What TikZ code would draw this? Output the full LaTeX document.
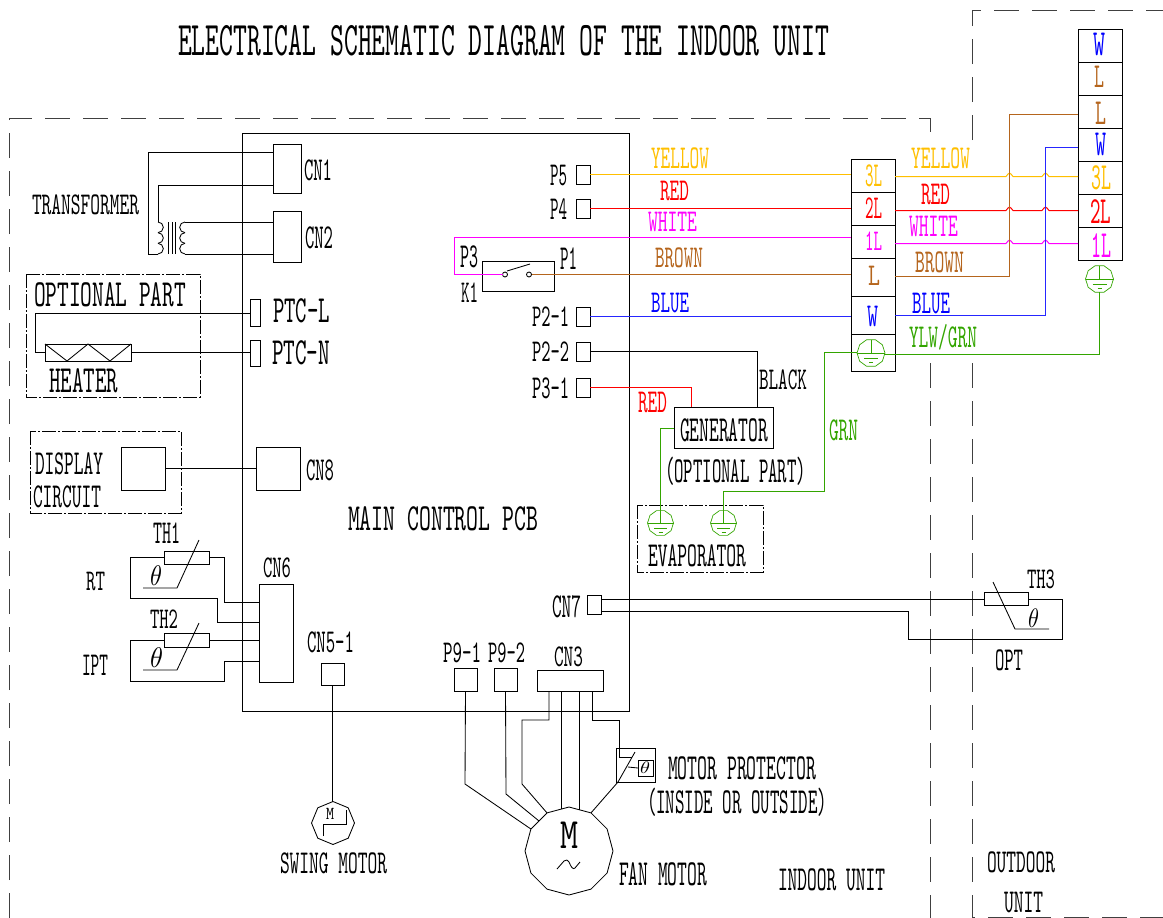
\documentclass[tikz,border=0pt]{standalone}
\usepackage{graphicx}
\usetikzlibrary{shapes.geometric,calc}
\definecolor{cyel}{HTML}{FFBF00}
\definecolor{cred}{HTML}{FF0000}
\definecolor{cmag}{HTML}{FF00FF}
\definecolor{cbrn}{HTML}{B5651D}
\definecolor{cblu}{HTML}{0000FF}
\definecolor{cgrn}{HTML}{33A500}
% label fitted to a measured box: [colour]{name}{x1}{x2}{y1}{y2}{text}
\newcommand\lbl[7][black]{\node[inner sep=0pt,outer sep=0pt,text=#1] (#2) at ({(#3+#4)/2},{(#5+#6)/2})
  {\resizebox{\dimexpr #4pt-#3pt\relax}{\dimexpr #6pt-#5pt\relax}{\ttfamily\smash{#7}\rule{0pt}{6pt}}};}
\newcommand\bx[5]{\node[boxn,minimum width={(#4-#2)*1pt},minimum height={(#5-#3)*1pt}] (#1) at ({(#2+#4)/2},{(#3+#5)/2}) {};}
\newcommand\gnd[4][12]{\node[gpoly,regular polygon sides=10,minimum size={#1*2pt}] (#2) at (#3,#4) {};
  \draw[gline] (#2.west) -- (#2.east);
  \draw[gline] ($(#2.center)+(-#1*0.5,5)$) -- ($(#2.center)+(#1*0.5,5)$);
  \draw[gline] ($(#2.center)+(-2,9)$) -- ($(#2.center)+(2,9)$);}
\tikzset{
  x=1pt,y=-1pt,
  boxn/.style={draw,inner sep=0pt,outer sep=0pt},
  wire/.style={line width=0.85pt,line join=miter},
  cwire/.style={line width=1pt,line join=miter},
  gpoly/.style={regular polygon,draw=cgrn,line width=0.7pt,inner sep=0pt,outer sep=0pt},
  gline/.style={draw=cgrn,line width=0.7pt},
  border/.style={line width=0.9pt,dash pattern=on 25pt off 13pt,draw=black!75},
  dashdot/.style={line width=0.8pt,dash pattern=on 14pt off 2pt on 2pt off 2pt},
  yw/.style={cwire,draw=cyel},rw/.style={cwire,draw=cred},mw/.style={cwire,draw=cmag},
  nw/.style={cwire,draw=cbrn},bw/.style={cwire,line width=1.25pt,draw=cblu!85!white},gw/.style={cwire,draw=cgrn},
}
\begin{document}
\begin{tikzpicture}[line width=0.85pt]
\useasboundingbox (0,0) rectangle (1163,918);
% unit borders
\draw[border] (9,918) -- (9,118) -- (930,118) -- (930,140);
\draw[border] (930,363) -- (930,918);
\draw[border] (972,140) -- (972,10) -- (1163,10);
\draw[border] (972,363) -- (972,917) -- (1163,917);
% title and pcb
\lbl{title}{178}{829}{26}{55}{ELECTRICAL SCHEMATIC DIAGRAM OF THE INDOOR UNIT}
\bx{pcb}{242}{133}{629}{711}
\lbl{pcbt}{348}{538}{507}{530}{MAIN CONTROL PCB}
% transformer
\bx{CNa}{273}{144}{301}{193}
\bx{CNb}{273}{211}{301}{262}
\lbl{tCNa}{304}{332}{160}{180}{CN1}
\lbl{tCNb}{305}{333}{227}{248}{CN2}
\lbl{ttr}{32}{139}{195}{214}{TRANSFORMER}
\coordinate (prit) at (158,222);
\coordinate (prib) at (158,254);
\coordinate (sect) at (185,222);
\coordinate (secb) at (185,254);
\draw[wire] (CNa.west |- 0,152) -- (148,152) -- (148,254) -- (prib);
\draw[wire] (CNa.west |- 0,185) -- (158,185) -- (prit);
\draw[wire] (prit) arc[start angle=-90,end angle=90,radius=5.33];
\draw[wire] (158,232.67) arc[start angle=-90,end angle=90,radius=5.33];
\draw[wire] (158,243.33) arc[start angle=-90,end angle=90,radius=5.33];
\draw[wire] (168.5,222) -- (168.5,254) (172,222) -- (172,254) (175.5,222) -- (175.5,254);
\draw[wire] (sect) arc[start angle=-90,end angle=-270,radius=5.33];
\draw[wire] (185,232.67) arc[start angle=-90,end angle=-270,radius=5.33];
\draw[wire] (185,243.33) arc[start angle=-90,end angle=-270,radius=5.33];
\draw[wire] (sect) -- (CNb.west |- sect);
\draw[wire] (secb) -- (CNb.west |- secb);
% heater
\draw[dashdot] (26,274) rectangle (200,397);
\lbl{topt}{34}{186}{283}{306}{OPTIONAL PART}
\lbl{thtr}{49}{118}{369}{392}{HEATER}
\bx{PL}{250}{299}{260}{326}
\bx{PN}{250}{340}{260}{366}
\bx{HT}{45}{344}{131}{361}
\lbl{tPL}{273}{330}{299}{322}{PTC-L}
\lbl{tPN}{272}{330}{341}{364}{PTC-N}
\draw[wire] (67,361) -- (45,344) (67,361) -- (88,344) -- (110,361) -- (131,344);
\draw[wire] (PL.west |- 0,313) -- (35,313) -- (35,352.5) -- (HT.west);
\draw[wire] (HT.east) -- (PN.west |- HT.east);
% display
\draw[dashdot] (30,431) rectangle (181,513);
\bx{DC}{121}{447}{165}{490}
\bx{CNh}{256}{447}{300}{490}
\lbl{tdis}{35}{103}{453}{474}{DISPLAY}
\lbl{tcir}{33}{101}{486}{507}{CIRCUIT}
\lbl{tCNh}{306}{334}{460}{480}{CN8}
\draw[wire] (DC.east) -- (CNh.west);
% thermistors
\bx{CNf}{259}{584}{293}{682}
\lbl{tCNf}{263}{291}{558}{577}{CN6}
\bx{RTa}{164}{551}{209}{564}
\bx{RTb}{164}{633}{209}{647}
\lbl{tTHa}{153}{180}{523}{543}{TH1}
\lbl{tTHb}{150}{178}{610}{628}{TH2}
\lbl{tRT}{86}{105}{572}{590}{RT}
\lbl{tIPT}{82}{108}{655}{675}{IPT}
\draw[wire] (RTa.west) -- (130,557.5) -- (130,598) -- (217,598) -- (217,622) -- (CNf.west |- 0,622);
\draw[wire] (RTa.east) -- (224,557.5) -- (224,602) -- (CNf.west |- 0,602);
\draw[wire] (RTb.west) -- (130,640) -- (130,681) -- (224,681) -- (224,661) -- (CNf.west |- 0,661);
\draw[wire] (RTb.east) -- (CNf.west |- RTb.east);
\draw[wire] (199,540) -- (177,588) -- (143,588);
\draw[wire] (199,623) -- (177,670) -- (143,670);
\lbl{tha}{150}{162}{568}{585}{$\theta$}
\lbl{thb}{150}{163}{650}{667}{$\theta$}
% swing motor
\bx{CNe}{321}{663}{344}{685}
\lbl{tCNe}{307}{354}{632}{652}{CN5-1}
\node[regular polygon,regular polygon sides=8,shape border rotate=22.5,draw,minimum size=43pt,inner sep=0pt,outer sep=0pt] (SM) at (333,823) {};
\draw[wire] (CNe.south) -- (CNe.south |- SM.north);
\lbl{tSMm}{326}{334}{808}{819}{M}
\draw[wire] (323,836) -- (323,824) -- (346,824) -- (346,810);
\lbl{tSM}{280}{387}{853}{873}{SWING MOTOR}
% fan motor
\bx{Pa}{454}{668}{477}{691}
\bx{Pb}{494}{668}{517}{691}
\bx{CNc}{537}{670}{603}{691}
\lbl{tPa}{443}{481}{643}{662}{P9-1}
\lbl{tPb}{488}{525}{643}{662}{P9-2}
\lbl{tCNc}{554}{583}{647}{666}{CN3}
\node[regular polygon,regular polygon sides=12,shape border rotate=15,draw,minimum size=88pt,inner sep=0pt,outer sep=0pt] (FM) at (569,851) {};
\lbl{tFMm}{560}{578}{822}{848}{M}
\draw[wire] (557,869) -- (564,861) .. controls (566,859) and (568,860) .. (569,862) .. controls (571,867) and (573,870) .. (575,868) -- (580,862);
\lbl{tFM}{619}{707}{863}{885}{FAN MOTOR}
\draw[wire] (Pa.south) -- (465,784) -- (FM.150);
\draw[wire] (Pb.south) -- (506,794) -- (FM.135);
\draw[wire] (CNc.south -| 549,0) -- (549,720) -- (522,720) -- (522,784) -- (FM.120);
\draw[wire] (FM.100 |- CNc.south) -- (FM.100);
\draw[wire] (FM.76 |- CNc.south) -- (FM.76);
% motor protector
\bx{MP}{616}{748}{655}{782}
\bx{MPt}{638}{760}{653}{776}
\lbl{tMPt}{640}{650}{763}{773}{$\theta$}
\draw[wire] (CNc.south -| 592,0) -- (592,720) -- (619,720) -- (619,757) -- (632,757);
\draw[wire] (635,752) -- (618,782) -- (FM.60);
\draw[wire] (628,767) -- (MPt.west);
\lbl{tMPa}{668}{816}{757}{779}{MOTOR PROTECTOR}
\lbl{tMPb}{647}{827}{791}{813}{(INSIDE OR OUTSIDE)}
\lbl{tIU}{778}{885}{869}{890}{INDOOR UNIT}
\lbl{tOU}{987}{1055}{852}{872}{OUTDOOR}
\lbl{tOUb}{1004}{1043}{892}{912}{UNIT}
% connectors on pcb
\bx{Pe}{576}{165}{590}{184}
\bx{Pd}{576}{199}{590}{218}
\bx{Pbb}{576}{307}{590}{326}
\bx{Pbc}{576}{342}{590}{361}
\bx{Pcc}{576}{378}{590}{397}
\lbl{tPe}{550}{567}{165}{185}{P5}
\lbl{tPd}{550}{567}{199}{219}{P4}
\lbl{tPbb}{532}{569}{307}{326}{P2-1}
\lbl{tPbc}{532}{569}{342}{361}{P2-2}
\lbl{tPcc}{532}{569}{378}{398}{P3-1}
% terminal block, indoor
\bx{Tc}{851}{159}{895}{192}
\bx{Tb}{851}{192}{895}{225}
\bx{Ta}{851}{225}{895}{258}
\bx{TL}{851}{258}{895}{296}
\bx{TW}{851}{296}{895}{334}
\bx{TG}{851}{334}{895}{371}
\lbl[cyel]{tTc}{865}{882}{165}{186}{3L}
\lbl[cred]{tTb}{865}{882}{198}{218}{2L}
\lbl[cmag]{tTa}{865}{882}{232}{250}{1L}
\lbl[cbrn]{tTL}{868}{880}{266}{285}{L}
\lbl[cblu]{tTW}{867}{878}{306}{326}{W}
\gnd[14]{GTB}{871}{353}
\draw[gline] (GTB.center |- GTB.north) -- (GTB.center);
% terminal block, outdoor
\bx{Rw}{1078}{29}{1122}{62}
\bx{Rl}{1078}{62}{1122}{95}
\bx{RL}{1078}{95}{1122}{128}
\bx{RW}{1078}{128}{1122}{161}
\bx{Rc}{1078}{161}{1122}{194}
\bx{Rb}{1078}{194}{1122}{227}
\bx{Ra}{1078}{227}{1122}{260}
\lbl[cblu]{tRw}{1093}{1105}{33}{55}{W}
\lbl[cbrn]{tRl}{1094}{1104}{66}{87}{L}
\lbl[cbrn]{tRL}{1095}{1106}{102}{124}{L}
\lbl[cblu]{tRW}{1095}{1106}{133}{155}{W}
\lbl[cyel]{tRc}{1091}{1111}{166}{189}{3L}
\lbl[cred]{tRb}{1090}{1111}{200}{223}{2L}
\lbl[cmag]{tRa}{1091}{1111}{234}{257}{1L}
\gnd[14]{GR}{1099.5}{279}
\draw[gline] (GR.center |- GR.north) -- (GR.center);
% relay
\bx{K}{482}{261}{554}{291}
\lbl{tPc}{460}{478}{246}{267}{P3}
\lbl{tPa1}{560}{577}{248}{269}{P1}
\lbl{tK}{461}{478}{283}{302}{K1}
\node[circle,draw,inner sep=0pt,minimum size=5pt,outer sep=0pt] (ca) at (505,274.5) {};
\node[circle,draw,inner sep=0pt,minimum size=5pt,outer sep=0pt] (cb) at (529,274.5) {};
\draw[wire] (507,271) -- (530,264);
% coloured wires left
\draw[yw] (Pe.east) -- (Tc.west |- Pe.east);
\draw[rw] (Pd.east) -- (Tb.west |- Pd.east);
\draw[mw] (ca.west) -- (454.5,274.5) -- (454.5,237.5) -- (Ta.west |- 0,237.5);
\draw[nw] (cb.east) -- (TL.west |- cb.east);
\draw[bw] (Pbb.east) -- (TW.west |- Pbb.east);
\lbl[cyel]{tYa}{651}{709}{148}{168}{YELLOW}
\lbl[cred]{tRa2}{660}{689}{181}{200}{RED}
\lbl[cmag]{tWa}{648}{697}{212}{231}{WHITE}
\lbl[cbrn]{tBa}{655}{703}{248}{267}{BROWN}
\lbl[cblu]{tUa}{651}{689}{293}{312}{BLUE}
% generator
\bx{GEN}{674}{407}{773}{448}
\lbl{tGEN}{680}{768}{419}{441}{GENERATOR}
\lbl{tOP}{665}{806}{460}{482}{(OPTIONAL PART)}
\draw[wire] (Pbc.east) -- (757.5,351.5) -- (GEN.north -| 757.5,0);
\draw[rw] (Pcc.east) -- (691.5,387.5) -- (GEN.north -| 691.5,0);
\lbl{tBK}{759}{807}{370}{389}{BLACK}
\lbl[cred]{tRc2}{638}{667}{392}{412}{RED}
\lbl[cgrn]{tGR}{829}{858}{420}{440}{GRN}
% evaporator
\draw[dashdot] (637,505) rectangle (763,572);
\lbl{tEV}{648}{746}{545}{566}{EVAPORATOR}
\gnd[13]{GEa}{660.5}{523}
\gnd[13]{GEb}{723.5}{523}
\draw[gw] (GEN.west |- 0,428.5) -- (660.5,428.5) -- (GEa.center);
\draw[gw] (GEb.center) -- (723.5,491.5) -- (824.5,491.5) -- (824.5,352.5) -- (GTB.west |- 0,352.5);
% coloured wires right
\draw[yw] (Tc.east |- 0,176.5) -- (1006,176.5) .. controls (1009.5,172) .. (1013,176.5) -- (1042,176.5) .. controls (1045.5,172) .. (1049,176.5) -- (Rc.west |- 0,176.5);
\draw[rw] (Tb.east |- 0,210.5) -- (1006,210.5) .. controls (1009.5,206) .. (1013,210.5) -- (1042,210.5) .. controls (1045.5,206) .. (1049,210.5) -- (Rb.west |- 0,210.5);
\draw[mw] (Ta.east |- 0,243.5) -- (1006,243.5) .. controls (1009.5,239) .. (1013,243.5) -- (1042,243.5) .. controls (1045.5,239) .. (1049,243.5) -- (Ra.west |- 0,243.5);
\draw[nw] (TL.east |- 0,276.5) -- (1009.5,276.5) -- (1009.5,114.5) -- (RL.west |- 0,114.5);
\draw[bw] (TW.east |- 0,315.5) -- (1045.5,315.5) -- (1045.5,147.5) -- (RW.west |- 0,147.5);
\draw[gw] (GTB.east |- 0,354.5) -- (TG.east |- 0,354.5) -- (GR.south |- 0,354.5) -- (GR.south);
\lbl[cyel]{tYb}{911}{970}{148}{168}{YELLOW}
\lbl[cred]{tRb2}{921}{950}{184}{204}{RED}
\lbl[cmag]{tWb}{909}{958}{216}{236}{WHITE}
\lbl[cbrn]{tBb}{915}{964}{252}{272}{BROWN}
\lbl[cblu]{tUb}{912}{950}{293}{313}{BLUE}
\lbl[cgrn]{tYG}{909}{977}{327}{347}{YLW/GRN}
% CN7 and TH3
\bx{CNg}{587}{595}{601}{614}
\lbl{tCNg}{552}{581}{596}{617}{CN7}
\bx{RTc}{984}{592}{1028}{605}
\lbl{tTHc}{1027}{1055}{570}{588}{TH3}
\lbl{tOPT}{995}{1023}{650}{670}{OPT}
\draw[wire] (CNg.east |- 0,599) -- (RTc.west |- 0,599);
\draw[wire] (RTc.east |- 0,599) -- (1062,599) -- (1062,639) -- (908,639) -- (908,611) -- (CNg.east |- 0,611);
\draw[wire] (993,582) -- (1015,629) -- (1049,629);
\lbl{thc}{1028}{1039}{611}{627}{$\theta$}
\end{tikzpicture}
\end{document}
